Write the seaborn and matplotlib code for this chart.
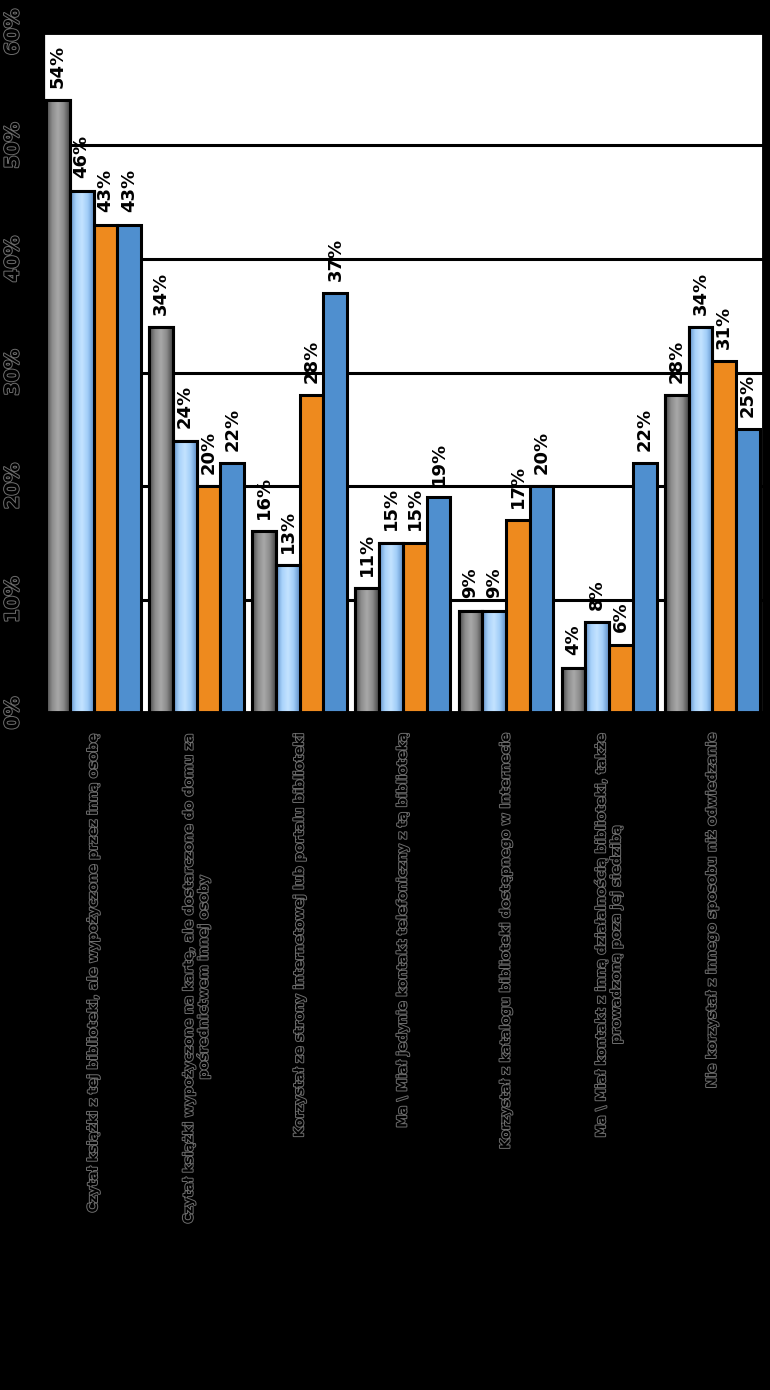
import numpy as np
import pandas as pd
import matplotlib
matplotlib.use('Agg')
import matplotlib.pyplot as plt
import matplotlib.patheffects as pe
from matplotlib.patches import Rectangle
from matplotlib.colors import LinearSegmentedColormap
import seaborn as sns

categories = [
    'Czytał książki z tej biblioteki, ale wypożyczone przez inną osobę',
    'Czytał książki wypożyczone na kartę, ale dostarczone do domu za\npośrednictwem innej osoby',
    'Korzystał ze strony internetowej lub portalu biblioteki',
    'Ma \\ Miał jedynie kontakt telefoniczny z tą biblioteką',
    'Korzystał z katalogu biblioteki dostępnego w Internecie',
    'Ma \\ Miał kontakt z inną działalnością biblioteki, także\nprowadzoną poza jej siedzibą',
    'Nie korzystał z innego sposobu niż odwiedzanie',
]
series = ['Seria 1', 'Seria 2', 'Seria 3', 'Seria 4']
s1 = [54, 34, 16, 11, 9, 4, 28]
s2 = [46, 24, 13, 15, 9, 8, 34]
s3 = [43, 20, 28, 15, 17, 6, 31]
s4 = [43, 22, 37, 19, 20, 22, 25]
colors = ['#7f7f7f', '#9cc8f5', '#ee8a1e', '#4f8fcf']
y_ticks = [0, 10, 20, 30, 40, 50, 60]

rows = []
for name, vals in zip(series, [s1, s2, s3, s4]):
    for c, v in zip(categories, vals):
        rows.append({'cat': c, 'series': name, 'value': v})
df = pd.DataFrame(rows)

sns.set_style('white')
plt.rcParams['font.family'] = ['DejaVu Sans']
halo = [pe.withStroke(linewidth=1.4, foreground='#6e6e6e')]

fig = plt.figure(figsize=(7.7, 13.9), dpi=100, facecolor='black')
ax = fig.add_axes([0.0545, 0.487, 0.9375, 0.490])
ax.set_facecolor('white')
ax.set_axisbelow(True)

sns.barplot(data=df, x='cat', y='value', hue='series', palette=colors,
            width=0.92, gap=0, edgecolor='black', linewidth=2.2,
            saturation=1, ax=ax, legend=False)

ax.set_xlim(-0.5, len(categories) - 0.5)
ax.set_ylim(0, 60)

# cylinder-like shading on the first two series
grads = [
    LinearSegmentedColormap.from_list('g1', ['#454545', '#8c8c8c', '#a9a9a9', '#8a8a8a', '#454545']),
    LinearSegmentedColormap.from_list('g2', ['#5f8fc6', '#a8d2fb', '#c4e3ff', '#a0cdf8', '#5f8fc6']),
]
g = np.linspace(0, 1, 64).reshape(1, -1)
for cont, cmap in zip(ax.containers[:2], grads):
    for bar in cont:
        x0, w, h = bar.get_x(), bar.get_width(), bar.get_height()
        im = ax.imshow(g, extent=[x0, x0 + w, 0, h], aspect='auto', cmap=cmap,
                       zorder=bar.get_zorder() + 0.05, interpolation='bicubic')
        im.set_clip_path(bar)
        ax.add_patch(Rectangle((x0, 0), w, h, fill=False, edgecolor='black',
                               linewidth=2.2, zorder=bar.get_zorder() + 0.1))
ax.set_xlim(-0.5, len(categories) - 0.5)
ax.set_ylim(0, 60)

for cont in ax.containers:
    ax.bar_label(cont, fmt='%d%%', rotation=90, padding=9, fontsize=13,
                 fontweight='bold', color='black', zorder=5)

ax.grid(axis='y', color='black', linewidth=2.2)
ax.grid(axis='x', visible=False)

ax.set_yticks(y_ticks)
ax.set_yticklabels([f'{t}%' for t in y_ticks], rotation=90, va='center',
                   fontsize=14, fontweight='bold', color='black')
ax.tick_params(axis='y', length=5, width=2, color='black', pad=9, left=True)

ax.set_xticks(range(len(categories)))
ax.set_xticklabels(categories, rotation=90, ha='center', va='top',
                   fontsize=9.5, fontweight='bold', color='black')
ax.tick_params(axis='x', which='major', length=0, pad=12)
ax.set_xticks(np.arange(-0.5, len(categories)), minor=True)
ax.tick_params(axis='x', which='minor', length=5, width=2.5, color='black', bottom=True)
for lbl in ax.get_xticklabels() + ax.get_yticklabels():
    lbl.set_path_effects(halo)

ax.set_xlabel('')
ax.set_ylabel('')
for side, lw in [('left', 4.5), ('right', 3.5), ('top', 3.5), ('bottom', 3.5)]:
    ax.spines[side].set_visible(True)
    ax.spines[side].set_color('black')
    ax.spines[side].set_linewidth(lw)

fig.savefig('out.png', dpi=100, facecolor='black')
